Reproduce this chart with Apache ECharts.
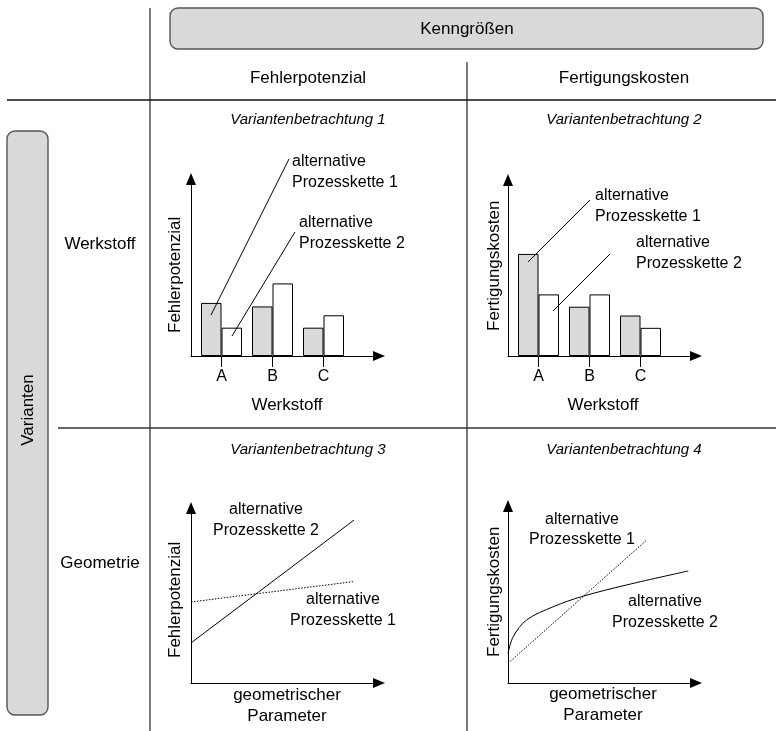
<!DOCTYPE html>
<html>
<head>
<meta charset="utf-8">
<script src="https://cdn.jsdelivr.net/npm/echarts/dist/echarts.min.js"></script>
<style>
  html, body { margin: 0; padding: 0; background: #fff; }
  #chart { width: 776px; height: 731px; }
</style>
</head>
<body>
<div id="chart"></div>
<script>
// ---- data ---------------------------------------------------------------
const materials = ['A', 'B', 'C'];

// Variantenbetrachtung 1: Fehlerpotenzial je Werkstoff
const faultChain1 = [3.0, 2.8, 1.6];
const faultChain2 = [1.6, 4.1, 2.3];

// Variantenbetrachtung 2: Fertigungskosten je Werkstoff
const costChain1 = [5.8, 2.8, 2.3];
const costChain2 = [3.5, 3.5, 1.6];

// Variantenbetrachtung 3: Fehlerpotenzial über geometrischem Parameter [x, y]
const geoFaultChain1 = [[0, 4.63], [8.62, 5.79]];
const geoFaultChain2 = [[0, 2.29], [8.67, 9.31]];

// Variantenbetrachtung 4: Fertigungskosten über geometrischem Parameter [x, y]
const geoCostChain1 = [[0, 1.11], [7.38, 8.08]];
const geoCostChain2 = [[0, 1.68], [0.28, 2.62], [0.99, 3.56], [2.41, 4.31],
                       [3.92, 4.88], [6.31, 5.54], [9.59, 6.33]];

// ---- styling --------------------------------------------------------------
const FONT = '"Liberation Sans", Arial, Helvetica, sans-serif';
const GREY = '#d9d9d9';
const INK = '#000';

const chart = echarts.init(document.getElementById('chart'), null, { renderer: 'canvas' });

// plot frames (axes with arrow heads)
const frames = [
  { left: 191, top: 179, width: 188, height: 177 },
  { left: 508, top: 180, width: 188, height: 176 },
  { left: 191, top: 508, width: 188, height: 175 },
  { left: 508, top: 506, width: 188, height: 177 }
];
// category bands for the bar panels
const barBands = [
  { left: 196, top: 179, width: 153, height: 177 },
  { left: 513, top: 180, width: 153, height: 176 }
];

const arrowLine = {
  show: true,
  symbol: ['none', 'triangle'],
  symbolSize: [10, 12],
  lineStyle: { color: INK, width: 1 }
};

const grids = frames.concat(barBands);
const xAxes = [];
const yAxes = [];
frames.forEach((f, i) => {
  xAxes.push({ gridIndex: i, type: 'value', min: 0, max: 10, axisLine: arrowLine,
    axisTick: { show: false }, axisLabel: { show: false }, splitLine: { show: false } });
  yAxes.push({ gridIndex: i, type: 'value', min: 0, max: 10, axisLine: arrowLine,
    axisTick: { show: false }, axisLabel: { show: false }, splitLine: { show: false } });
});
barBands.forEach((b, j) => {
  xAxes.push({ gridIndex: 4 + j, type: 'category', data: materials,
    axisLine: { show: false },
    axisTick: { show: true, alignWithLabel: true, length: 11, lineStyle: { color: INK, width: 1 } },
    axisLabel: { color: INK, fontSize: 16, fontFamily: FONT, margin: 13 },
    splitLine: { show: false } });
  yAxes.push({ gridIndex: 4 + j, type: 'value', min: 0, max: 10, show: false });
});

function barSeries(axis, values, fill) {
  return {
    type: 'bar', xAxisIndex: axis, yAxisIndex: axis, data: values,
    barWidth: 20.5, barGap: '0%',
    itemStyle: { color: fill, borderColor: INK, borderWidth: 1 },
    emphasis: { disabled: true }, silent: true, z: 3
  };
}
function lineSeries(axis, points, dotted, smooth) {
  return {
    type: 'line', xAxisIndex: axis, yAxisIndex: axis, data: points,
    showSymbol: false, smooth: smooth ? 0.35 : false, silent: true,
    lineStyle: { color: INK, width: 1, type: dotted ? [1.5, 1.5] : 'solid' }
  };
}

const series = [
  barSeries(4, faultChain1, GREY),
  barSeries(4, faultChain2, '#fff'),
  barSeries(5, costChain1, GREY),
  barSeries(5, costChain2, '#fff'),
  lineSeries(2, geoFaultChain1, true, false),
  lineSeries(2, geoFaultChain2, false, false),
  lineSeries(3, geoCostChain1, true, false),
  lineSeries(3, geoCostChain2, false, true)
];

// ---- table frame, headings and annotations ------------------------------------
function text(str, x, y, opts) {
  opts = opts || {};
  return {
    type: 'text', x: x, y: y, rotation: opts.rotation || 0, z: 10,
    style: {
      text: str, fill: INK,
      font: (opts.italic ? 'italic ' : '') + (opts.size || 16) + 'px ' + FONT,
      align: opts.align || 'center', verticalAlign: 'middle'
    }
  };
}
function rule(x1, y1, x2, y2, color, width) {
  return { type: 'line', z: 5, shape: { x1, y1, x2, y2 },
    style: { stroke: color || '#333', lineWidth: width || 1.3 } };
}
function box(x, y, w, h) {
  return { type: 'rect', z: 4, shape: { x, y, width: w, height: h, r: 8 },
    style: { fill: GREY, stroke: '#555', lineWidth: 1.4 } };
}
function callout(x1, y1, x2, y2) {
  return { type: 'line', z: 8, shape: { x1, y1, x2, y2 },
    style: { stroke: INK, lineWidth: 1 } };
}

const graphics = [
  // table
  box(170, 8, 593, 41),
  box(7, 131, 41, 584),
  rule(150, 8, 150, 731),
  rule(467, 62, 467, 731),
  rule(7, 100, 776, 100, '#111', 1.5),
  rule(58, 428, 776, 428),

  text('Kenngrößen', 467, 29, { size: 17 }),
  text('Fehlerpotenzial', 308, 78, { size: 17 }),
  text('Fertigungskosten', 624, 78, { size: 17 }),
  text('Varianten', 28, 410, { rotation: Math.PI / 2, size: 17 }),
  text('Werkstoff', 100, 244, { size: 17 }),
  text('Geometrie', 100, 563, { size: 17 }),

  text('Variantenbetrachtung 1', 308, 120, { italic: true, size: 15 }),
  text('Variantenbetrachtung 2', 624, 120, { italic: true, size: 15 }),
  text('Variantenbetrachtung 3', 308, 450, { italic: true, size: 15 }),
  text('Variantenbetrachtung 4', 624, 450, { italic: true, size: 15 }),

  // axis titles
  text('Fehlerpotenzial', 175, 333, { rotation: Math.PI / 2, align: 'left', size: 17 }),
  text('Fertigungskosten', 494, 331, { rotation: Math.PI / 2, align: 'left', size: 17 }),
  text('Fehlerpotenzial', 175, 658, { rotation: Math.PI / 2, align: 'left', size: 17 }),
  text('Fertigungskosten', 494, 657, { rotation: Math.PI / 2, align: 'left', size: 17 }),
  text('Werkstoff', 287, 405, { size: 17 }),
  text('Werkstoff', 603, 405, { size: 17 }),
  text('geometrischer', 287, 695, { size: 17 }),
  text('Parameter', 287, 716, { size: 17 }),
  text('geometrischer', 603, 694, { size: 17 }),
  text('Parameter', 603, 715, { size: 17 }),

  // process chain labels, panel 1
  callout(211, 315, 289, 159),
  text('alternative', 292, 162, { align: 'left' }),
  text('Prozesskette 1', 292, 183, { align: 'left' }),
  callout(232, 336, 295, 232),
  text('alternative', 299, 223, { align: 'left' }),
  text('Prozesskette 2', 299, 244, { align: 'left' }),

  // panel 2
  callout(528, 262, 590, 200),
  text('alternative', 595, 196, { align: 'left' }),
  text('Prozesskette 1', 595, 217, { align: 'left' }),
  callout(553, 311, 610, 254),
  text('alternative', 636, 243, { align: 'left' }),
  text('Prozesskette 2', 636, 264, { align: 'left' }),

  // panel 3
  text('alternative', 266, 510),
  text('Prozesskette 2', 266, 531),
  text('alternative', 343, 600),
  text('Prozesskette 1', 343, 621),

  // panel 4
  text('alternative', 582, 520),
  text('Prozesskette 1', 582, 540),
  text('alternative', 665, 602),
  text('Prozesskette 2', 665, 623)
];

chart.setOption({
  animation: false,
  backgroundColor: '#fff',
  textStyle: { fontFamily: FONT },
  grid: grids.map(g => Object.assign({ containLabel: false }, g)),
  xAxis: xAxes,
  yAxis: yAxes,
  series: series,
  graphic: { elements: graphics }
});
</script>
</body>
</html>
